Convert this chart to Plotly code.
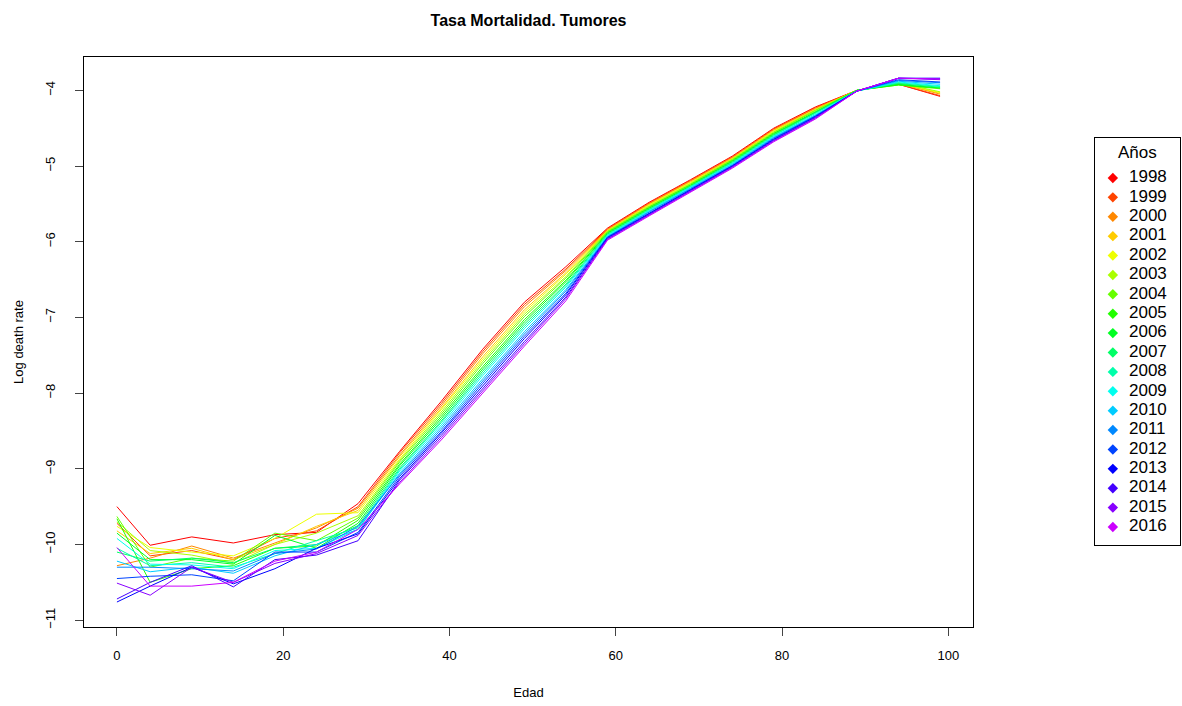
import colorsys
import plotly.graph_objects as go

ages = [0, 4, 9, 14, 19, 24, 29, 34, 39, 44, 49, 54, 59, 64, 69, 74, 79, 84, 89, 94, 99]
years = list(range(1998, 2017))

y1998 = [-9.50, -10.01, -9.90, -9.98, -9.87, -9.84, -9.46, -8.77, -8.11, -7.42, -6.80, -6.33, -5.82, -5.48, -5.18, -4.87, -4.50, -4.22, -4.00, -3.92, -4.08]
y1999 = [-9.72, -10.15, -10.08, -10.20, -9.92, -9.82, -9.50, -8.79, -8.14, -7.45, -6.83, -6.36, -5.83, -5.49, -5.19, -4.88, -4.51, -4.23, -4.00, -3.92, -4.07]
y2000 = [-10.28, -10.18, -10.02, -10.18, -9.98, -9.78, -9.52, -8.82, -8.17, -7.48, -6.86, -6.38, -5.84, -5.50, -5.20, -4.89, -4.52, -4.24, -4.00, -3.91, -4.05]
y2001 = [-9.82, -10.12, -10.05, -10.20, -10.00, -9.76, -9.55, -8.84, -8.20, -7.52, -6.90, -6.41, -5.85, -5.51, -5.21, -4.90, -4.53, -4.25, -4.00, -3.91, -4.04]
y2002 = [-9.76, -10.04, -10.10, -10.15, -9.92, -9.60, -9.58, -8.87, -8.22, -7.55, -6.93, -6.43, -5.86, -5.52, -5.22, -4.91, -4.54, -4.26, -4.00, -3.90, -4.03]
y2003 = [-9.70, -10.08, -10.14, -10.25, -10.00, -9.85, -9.62, -8.89, -8.25, -7.58, -6.96, -6.46, -5.86, -5.53, -5.23, -4.91, -4.55, -4.26, -4.00, -3.90, -4.02]
y2004 = [-9.63, -10.30, -10.18, -10.22, -9.85, -9.95, -9.65, -8.91, -8.28, -7.61, -6.99, -6.48, -5.87, -5.54, -5.24, -4.92, -4.56, -4.27, -4.00, -3.93, -3.98]
y2005 = [-9.66, -10.50, -10.32, -10.28, -10.05, -10.02, -9.68, -8.94, -8.31, -7.65, -7.03, -6.51, -5.88, -5.55, -5.25, -4.93, -4.57, -4.28, -4.00, -3.93, -3.97]
y2006 = [-9.85, -10.20, -10.20, -10.26, -9.88, -10.05, -9.72, -8.96, -8.34, -7.68, -7.06, -6.53, -5.89, -5.56, -5.26, -4.94, -4.58, -4.29, -4.00, -3.92, -3.97]
y2007 = [-10.10, -10.22, -10.18, -10.24, -10.05, -10.00, -9.75, -8.99, -8.37, -7.71, -7.09, -6.56, -5.90, -5.57, -5.27, -4.95, -4.59, -4.30, -4.00, -3.91, -3.96]
y2008 = [-10.05, -10.28, -10.24, -10.30, -10.12, -9.95, -9.78, -9.01, -8.39, -7.74, -7.12, -6.58, -5.91, -5.58, -5.27, -4.96, -4.60, -4.31, -4.01, -3.90, -3.95]
y2009 = [-9.92, -10.26, -10.27, -10.32, -10.08, -10.05, -9.80, -9.03, -8.42, -7.77, -7.15, -6.60, -5.92, -5.59, -5.28, -4.97, -4.61, -4.32, -4.01, -3.89, -3.94]
y2010 = [-10.22, -10.36, -10.30, -10.38, -10.15, -10.00, -9.80, -9.06, -8.45, -7.81, -7.19, -6.63, -5.93, -5.60, -5.29, -4.98, -4.62, -4.33, -4.01, -3.88, -3.92]
y2011 = [-10.30, -10.30, -10.32, -10.35, -10.12, -10.06, -9.76, -9.08, -8.48, -7.84, -7.22, -6.65, -5.94, -5.61, -5.30, -4.99, -4.63, -4.34, -4.01, -3.87, -3.90]
y2012 = [-10.45, -10.42, -10.40, -10.48, -10.10, -10.10, -9.84, -9.10, -8.51, -7.87, -7.25, -6.68, -5.94, -5.62, -5.31, -5.00, -4.64, -4.34, -4.01, -3.86, -3.89]
y2013 = [-10.76, -10.55, -10.30, -10.52, -10.32, -10.05, -9.86, -9.13, -8.53, -7.90, -7.28, -6.70, -5.95, -5.63, -5.32, -5.00, -4.65, -4.35, -4.01, -3.84, -3.84]
y2014 = [-10.72, -10.50, -10.28, -10.56, -10.20, -10.14, -9.95, -9.15, -8.56, -7.94, -7.32, -6.73, -5.96, -5.64, -5.33, -5.01, -4.66, -4.36, -4.01, -3.84, -3.85]
y2015 = [-10.51, -10.67, -10.30, -10.50, -10.25, -10.12, -9.88, -9.18, -8.59, -7.97, -7.35, -6.75, -5.97, -5.65, -5.34, -5.02, -4.67, -4.37, -4.01, -3.84, -3.86]
y2016 = [-10.04, -10.55, -10.55, -10.50, -10.22, -10.10, -9.80, -9.20, -8.62, -8.00, -7.38, -6.78, -5.98, -5.66, -5.35, -5.03, -4.68, -4.38, -4.01, -3.84, -3.85]

series = [y1998, y1999, y2000, y2001, y2002, y2003, y2004, y2005, y2006, y2007,
          y2008, y2009, y2010, y2011, y2012, y2013, y2014, y2015, y2016]

x_ticks = [0, 20, 40, 60, 80, 100]
y_ticks = [-11, -10, -9, -8, -7, -6, -5, -4]
legend_title = "Años"


def rainbow(n, end=0.8):
    cols = []
    for i in range(n):
        h = end * i / (n - 1)
        r, g, b = colorsys.hsv_to_rgb(h, 1, 1)
        cols.append("rgb(%d,%d,%d)" % (round(r * 255), round(g * 255), round(b * 255)))
    return cols


colors = rainbow(len(years))
font = "Liberation Sans, Arial, sans-serif"

# page geometry (pixels)
W, H = 1182, 706
ML, MR, MT, MB = 84, 2, 57, 79
area_w = W - ML - MR
area_h = H - MT - MB
main_right = 973
leg_left, leg_top, leg_bottom = 1095, 138, 545

fig = go.Figure()
for yr, vals, c in zip(years, series, colors):
    fig.add_trace(go.Scatter(x=ages, y=vals, mode="lines", line=dict(color=c, width=1),
                             showlegend=False, name=str(yr), xaxis="x", yaxis="y"))

# legend drawn as its own small panel
fig.add_trace(go.Scatter(x=[0.21] * len(years), y=years, mode="markers",
                         marker=dict(symbol="diamond", color=colors, size=8),
                         showlegend=False, hoverinfo="skip", xaxis="x2", yaxis="y2"))
fig.add_trace(go.Scatter(x=[0.40] * len(years), y=years, mode="text",
                         text=[str(y) for y in years], textposition="middle right",
                         textfont=dict(size=17, family=font, color="black"),
                         showlegend=False, hoverinfo="skip", xaxis="x2", yaxis="y2"))

step = 19.4
y_top_val = years[0] - (178 - leg_top) / step
y_bot_val = years[-1] + (leg_bottom - 527) / step

fig.add_annotation(x=0.5, y=years[0] - (178 - 153) / step, xref="x2", yref="y2",
                   text=legend_title, showarrow=False, xanchor="center", yanchor="middle",
                   font=dict(size=17, family=font, color="black"))

fig.update_layout(
    width=W, height=H,
    margin=dict(l=ML, r=MR, t=MT, b=MB, autoexpand=False),
    paper_bgcolor="white", plot_bgcolor="white",
    font=dict(family=font, color="black", size=13),
    showlegend=False,
    title=dict(text="<b>Tasa Mortalidad. Tumores</b>", x=(ML + main_right) / 2 / W, xanchor="center",
               y=1 - 20 / H, yanchor="middle", font=dict(size=16, family=font)),
    xaxis=dict(domain=[0, (main_right - ML) / area_w], range=[-3.96, 102.96], tickvals=x_ticks,
               ticks="outside", ticklen=8, ticklabelstandoff=8,
               showline=True, linecolor="black", linewidth=1, mirror=True, showgrid=False,
               zeroline=False, tickfont=dict(size=13),
               title=dict(text="Edad", font=dict(size=13), standoff=26)),
    yaxis=dict(range=[-11.09, -3.56], tickvals=y_ticks, ticks="outside", ticklen=8,
               ticklabelstandoff=15,
               showline=True, linecolor="black", linewidth=1, mirror=True, showgrid=False,
               zeroline=False, tickangle=-90, tickfont=dict(size=13),
               title=dict(text="Log death rate", font=dict(size=13), standoff=16)),
    xaxis2=dict(domain=[(leg_left - ML) / area_w, 1.0], range=[0, 1], anchor="y2",
                showline=True, linecolor="black", linewidth=1, mirror=True,
                showgrid=False, zeroline=False, showticklabels=False, ticks=""),
    yaxis2=dict(domain=[(H - MB - leg_bottom) / area_h, (H - MB - leg_top) / area_h],
                range=[y_bot_val, y_top_val], anchor="x2",
                showline=True, linecolor="black", linewidth=1, mirror=True,
                showgrid=False, zeroline=False, showticklabels=False, ticks=""),
)

fig.write_html("out.html")
